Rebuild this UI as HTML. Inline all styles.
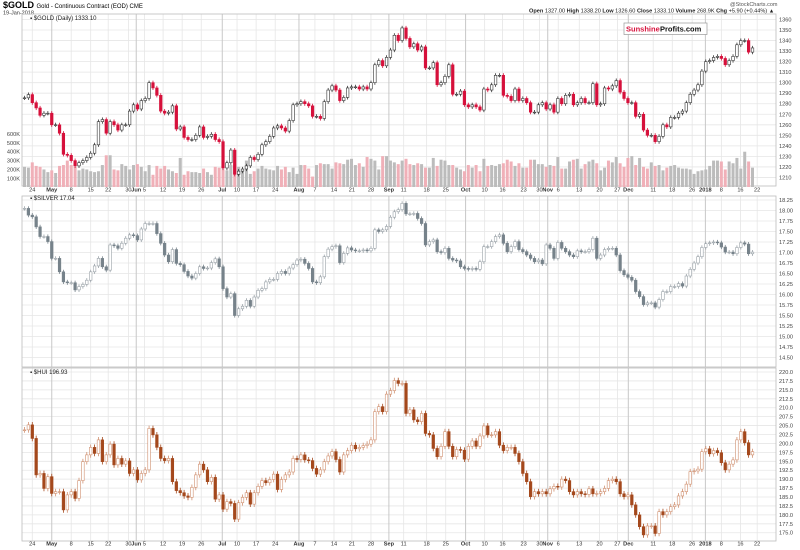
<!DOCTYPE html>
<html><head><meta charset="utf-8"><style>
body{margin:0;background:#fff;}
svg{display:block;font-family:"Liberation Sans",sans-serif;}
</style></head><body>
<svg id="chart" width="800" height="550" viewBox="0 0 800 550" xmlns="http://www.w3.org/2000/svg">
<rect width="800" height="550" fill="#fff"/>
<text x="3" y="8" font-size="9" font-weight="bold">$GOLD <tspan font-size="6" font-weight="normal">Gold - Continuous Contract (EOD) CME</tspan></text>
<text x="3" y="14.5" font-size="5.5" fill="#333">19-Jan-2018</text>
<text x="730" y="6" font-size="5.5" fill="#555">@StockCharts.com</text>
<text x="529" y="12.5" font-size="5.6" fill="#222"><tspan font-weight="bold">Open</tspan> 1327.00 <tspan font-weight="bold">High</tspan> 1338.20 <tspan font-weight="bold">Low</tspan> 1326.60 <tspan font-weight="bold">Close</tspan> 1333.10 <tspan font-weight="bold">Volume</tspan> 268.9K <tspan font-weight="bold">Chg</tspan> +5.90 (+0.44%) ▲</text>
<g id="grids"></g>
<g id="marks"></g>
<g>
<rect x="624" y="23" width="83" height="11.5" fill="#fff" stroke="#999" stroke-width="0.7"/>
<text x="626" y="31.5" font-size="7.5" font-weight="bold" fill="#d6103b">Sunshine</text>
<text x="660" y="31.5" font-size="7.5" font-weight="bold" fill="#111">Profits.com</text>
</g>
<text x="30" y="20" font-size="6" fill="#222">▪ $GOLD (Daily) 1333.10</text>
<text x="30" y="200" font-size="6" fill="#222">▪ $SILVER 17.04</text>
<text x="30" y="374" font-size="6" fill="#222">▪ $HUI 196.93</text>
</svg>
<script>
const goldClose=[1285.6,1288.7,1281,1276,1269,1271,1271,1260,1260,1252,1232,1231,1226,1221,1224,1226,1229,1233,1241,1263,1265,1252,1263,1260,1255,1260,1260,1273,1279,1275,1283,1285,1300,1295,1288,1273,1271,1272,1278,1256,1258,1248,1246,1246,1250,1258,1248,1249,1251,1246,1244,1219,1224,1236,1213,1216,1218,1221,1229,1227,1232,1241,1244,1249,1257,1259,1257,1254,1264,1279,1280,1282,1280,1278,1268,1268,1266,1282,1293,1297,1293,1283,1286,1295,1296,1296,1294,1296,1294,1300,1317,1321,1316,1324,1331,1345,1340,
1352,1342,1334,1337,1331,1334,1314,1314,1319,1298,1300,1306,1317,1289,1289,1292,1279,1277,1279,1277,1274,1294,1293,1298,1307,1307,1288,1287,1283,1294,1283,1285,1281,1272,1272,1279,1281,1275,1279,1272,1285,1280,1288,1289,1279,1281,1285,1281,1281,1299,1279,1280,1295,1294,1297,1302,1291,1285,1281,1281,1268,1270,1255,1250,1250,1244,1249,1260,1258,1267,1267,1271,1273,1281,1289,1293,1298,1311,1320,1321,1324,1325,1323,1317,1321,1325,1336,1340,1340,1329,1333];
const silverClose=[18.05,17.89,17.85,17.61,17.38,17.38,17.26,16.86,16.86,16.54,16.30,16.28,16.28,16.11,16.19,16.24,16.34,16.54,16.68,16.86,16.66,16.58,17.18,17.16,17.10,17.22,17.34,17.42,17.40,17.30,17.56,17.69,17.69,17.69,17.45,17.22,16.94,16.78,17.07,16.74,16.71,16.55,16.44,16.39,16.50,16.66,16.62,16.63,16.76,16.85,16.66,16.14,15.94,16.02,15.50,15.66,15.72,15.86,15.72,15.94,16.10,16.14,16.30,16.36,16.36,16.50,16.55,16.50,16.63,16.71,16.82,16.84,16.74,16.62,16.30,16.28,16.42,16.90,17.08,17.14,17.16,16.76,16.98,17.11,17.06,17.04,17.04,17.06,17.04,17.10,17.54,17.50,17.54,17.62,17.84,17.97,18.02,
18.17,17.92,17.92,17.93,17.81,17.69,17.18,17.26,17.30,17.02,17.00,17.10,16.86,16.82,16.80,16.66,16.62,16.60,16.62,16.60,16.78,17.14,17.14,17.26,17.38,17.42,17.22,17.02,17.14,17.26,17.07,17.02,16.94,16.86,16.78,16.82,16.73,17.18,17.10,16.86,17.24,17.10,17.02,16.94,16.90,17.04,17.02,17.02,17.07,17.34,16.86,16.94,17.07,17.10,17.10,16.94,16.57,16.47,16.41,16.34,16.07,15.95,15.76,15.80,15.80,15.70,15.88,16.07,16.07,16.19,16.19,16.26,16.20,16.44,16.60,16.75,16.90,17.12,17.21,17.23,17.25,17.23,17.13,17.01,17.01,16.97,17.12,17.23,17.20,16.97,17.01];
const huiClose=[203.8,205.2,201.4,191.2,191.6,187.4,190.7,186.0,186.5,186.5,181.4,185.6,186.5,184.6,189.6,194.9,196.8,198.9,197.2,201.0,194.9,196.8,199.8,194.0,195.8,194.2,195.1,191.6,192.6,189.8,191.6,192.6,204.2,202.4,198.9,195.8,195.2,195.8,189.3,186.8,186.2,185.3,184.9,187.7,191.2,194.2,192.6,189.3,190.5,184.4,185.6,181.6,183.7,183.2,178.8,183.4,184.9,186.2,183.0,186.2,188.0,189.6,189.0,189.9,191.4,187.1,189.9,191.2,192.0,195.8,195.5,196.8,195.4,195.2,193.0,191.4,192.6,194.9,196.5,197.7,195.5,192.0,196.8,198.0,199.5,198.5,198.9,199.4,199.8,201.0,208.9,210.3,208.9,213.8,214.8,217.6,216.8,
216.8,208.4,209.4,206.6,206.1,208.4,202.8,202.4,198.6,196.3,199.2,203.3,199.2,196.3,198.3,198.1,195.6,199.2,200.7,199.2,202.1,204.9,202.4,202.4,203.3,199.5,198.0,198.9,198.9,197.2,194.9,191.6,189.3,185.1,186.5,185.9,186.5,185.9,187.3,188.0,187.8,190.0,189.6,186.5,185.6,186.5,185.9,185.7,187.3,185.9,186.0,186.5,187.4,189.6,190.0,189.3,185.9,185.1,185.6,182.8,180.0,176.7,174.4,176.9,176.9,174.8,180.9,180.0,180.9,182.3,182.8,185.3,186.5,188.6,192.1,192.3,192.8,197.7,198.5,197.1,198.0,197.4,194.6,192.6,194.2,195.4,201.0,203.3,200.2,196.8,197.7];
const goldVolumeK=[230,220,280,240,230,200,170,190,160,240,250,300,250,230,190,210,200,180,170,180,250,360,360,200,190,260,240,200,250,260,230,180,250,140,240,210,240,200,180,160,330,140,180,170,170,160,210,170,140,230,220,200,190,250,260,230,200,300,150,180,210,240,210,200,190,240,200,230,170,220,150,250,250,210,120,250,270,260,260,210,280,270,260,310,320,250,270,230,340,320,300,200,350,350,300,280,260,
300,320,260,250,270,260,220,220,330,240,310,300,250,250,220,200,180,250,220,250,180,320,240,250,240,260,270,310,290,240,270,220,220,310,310,260,260,230,250,240,340,210,210,290,310,320,210,260,290,310,270,190,220,300,280,340,270,230,330,350,250,330,230,210,280,240,250,190,220,240,250,220,210,210,200,150,180,190,200,240,300,300,290,200,290,270,330,210,400,290,220];
const dateLabels=["24","May","8","15","22","30","Jun","5","12","19","26","Jul","10","17","24","Aug","7","14","21","28","Sep","11","18","25","Oct","10","16","23","30","Nov","6","13","20","27","Dec","11","18","26","2018","8","16","22"];
const dateLabelIdx=[2,7,12,17,21.5,26.7,28.7,30.8,35.6,40.5,45.4,50.8,54.6,59.5,64.4,70.5,74.6,79.5,84.1,89,93.6,97.4,103.3,108.2,113.3,118.2,122.8,128.2,132.3,134.4,137.1,142.5,147.7,152.3,155.1,161.5,166.4,171.5,174.9,179,183.9,188.2];
const monthLabels=["May","Jun","Jul","Aug","Sep","Oct","Nov","Dec","2018"];
const goldTicks=[1210,1220,1230,1240,1250,1260,1270,1280,1290,1300,1310,1320,1330,1340,1350,1360];
const silverTicks=[14.5,14.75,15,15.25,15.5,15.75,16,16.25,16.5,16.75,17,17.25,17.5,17.75,18,18.25];
const huiTicks=[175,177.5,180,182.5,185,187.5,190,192.5,195,197.5,200,202.5,205,207.5,210,212.5,215,217.5,220];
const volTicks=[100,200,300,400,500,600];

const NS="http://www.w3.org/2000/svg";
const grids=document.getElementById('grids'), marks=document.getElementById('marks');
const X0=22, X1=776, N=goldClose.length;
const xOf=i=>24.5+i*(752.5-24.5)/(N-1);
const gy=v=>19.5+(1360-v)*1.053;
const sy=v=>200+(18.25-v)*42;
const hy=v=>372+(220-v)*3.572;
const vy=k=>187.2-k*0.0887;
function el(tag,attrs,parent){const e=document.createElementNS(NS,tag);for(const k in attrs)e.setAttribute(k,attrs[k]);(parent||marks).appendChild(e);return e;}

const panels=[{top:14,bot:186,ticks:goldTicks,y:gy,fmt:v=>v.toFixed(0),name:'gold'},
{top:196,bot:367,ticks:silverTicks,y:sy,fmt:v=>v.toFixed(2),name:'silver'},
{top:368,bot:541,ticks:huiTicks,y:hy,fmt:v=>v.toFixed(1),name:'hui'}];
panels.forEach(p=>{
  p.ticks.forEach(t=>{
    const yy=p.y(t);
    const l=el('line',{x1:X0,x2:X1,y1:yy,y2:yy,stroke:'#e6e6e6','stroke-width':0.8},grids);
    
    
    const tx=el('text',{x:779,y:yy+2,'font-size':5.6,fill:'#444'},grids);
    tx.textContent=p.fmt(t);
    
    
  });
  dateLabels.forEach((d,j)=>{
    const xx=xOf(dateLabelIdx[j]);
    const isM=monthLabels.includes(d);
    const l=el('line',{x1:xx,x2:xx,y1:p.top,y2:p.bot,stroke:isM?'#c8c8c8':'#e6e6e6','stroke-width':isM?1:0.8},grids);
    
    
  });
  const r=el('rect',{x:X0,y:p.top,width:X1-X0,height:p.bot-p.top,fill:'none',stroke:'#bdbdbd','stroke-width':0.8},grids);
  
  
});
// date labels rows
[191.5,545.5].forEach(ly=>{
  dateLabels.forEach((d,j)=>{
    const isM=monthLabels.includes(d);
    const t=el('text',{x:xOf(dateLabelIdx[j]),y:ly,'font-size':5.6,'text-anchor':'middle',fill:'#333','font-weight':isM?'bold':'normal'},grids);
    t.textContent=d;
    
    
  });
});
volTicks.forEach(k=>{
  const t=el('text',{x:20,y:vy(k)+2,'font-size':5.6,'text-anchor':'end',fill:'#444'},grids);
  t.textContent=k+'K';
  
  
});
// volume bars
goldVolumeK.forEach((k,i)=>{
  if(i>=N)return;
  const down=i>0&&goldClose[i]<goldClose[i-1];
  const b=el('rect',{x:xOf(i)-1.5,y:vy(k),width:3,height:187-vy(k),fill:down?'#f0b0b8':'#bcbcbc'});
  
  
});
function candles(arr,yf,wick,upCol,upFill,downCol,name){
  arr.forEach((c,i)=>{
    const o=i>0?arr[i-1]:c;
    const x=xOf(i), up=c>=o;
    const hi=Math.max(o,c)+wick, lo=Math.min(o,c)-wick;
    const col=up?upCol:downCol;
    const w=el('line',{x1:x,x2:x,y1:yf(hi),y2:yf(lo),stroke:col,'stroke-width':0.8});
    
    
    const y1=yf(Math.max(o,c)), y2=yf(Math.min(o,c));
    const b=el('rect',{x:x-1.3,y:y1,width:2.6,height:Math.max(0.8,y2-y1),fill:up?upFill:downCol,stroke:col,'stroke-width':0.6});
    
    
  });
}
candles(goldClose,gy,2,'#333','#fff','#d6103b','gold');
candles(silverClose,sy,0.05,'#9aa2a8','#fff','#76828a','silver');
candles(huiClose,hy,0.8,'#d09070','#fff','#a4481c','hui');
</script>
</body></html>
